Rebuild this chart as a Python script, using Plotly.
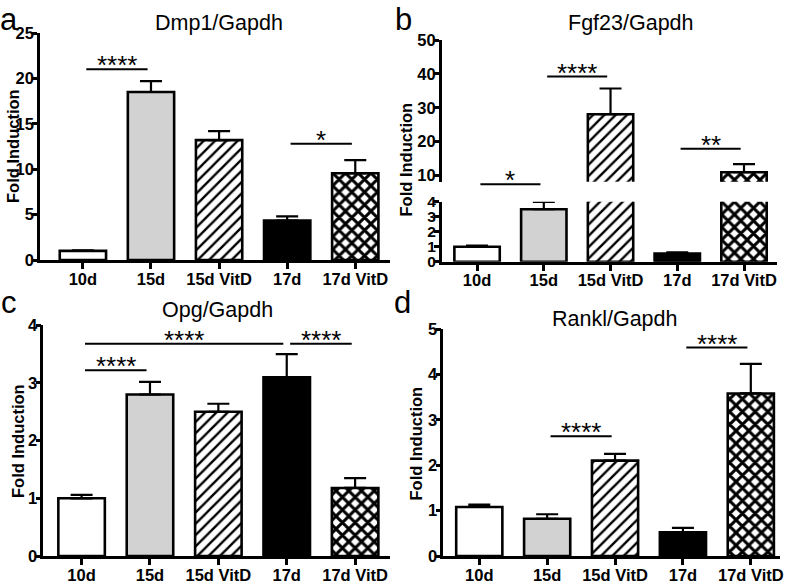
import plotly.graph_objects as go

W, H = 787, 583
FONT = "Liberation Sans"

# ---------------- data ----------------
categories = ["10d", "15d", "15d VitD", "17d", "17d VitD"]

dmp1_mean = [1.0, 18.5, 13.2, 4.35, 9.55]
dmp1_sem = [0.05, 1.2, 1.0, 0.45, 1.45]

fgf23_mean = [1.0, 3.5, 28.1, 0.55, 11.0]
fgf23_sem = [0.07, 0.48, 7.6, 0.08, 2.4]

opg_mean = [1.0, 2.8, 2.5, 3.1, 1.18]
opg_sem = [0.06, 0.22, 0.14, 0.4, 0.17]

rankl_mean = [1.08, 0.82, 2.1, 0.52, 3.58]
rankl_sem = [0.05, 0.1, 0.15, 0.1, 0.65]

# significance brackets: (from group, to group, height, label)
dmp1_sig = [(0, 1, 21.0, "****"), (3, 4, 12.8, "*")]
fgf23_sig = [(0, 1, 7.46, "*"), (1, 2, 39.2, "****"), (3, 4, 17.9, "**")]
opg_sig = [(0, 1, 3.22, "****"), (0, 3, 3.68, "****"), (3, 4, 3.68, "****")]
rankl_sig = [(1, 2, 2.64, "****"), (3, 4, 4.59, "****")]

# ---------------- style ----------------
fills = ["white", "#d2d2d2", "white", "black", "white"]
patterns = ["", "", "/", "", "x"]
pat_size = [8, 8, 8, 8, 9]
pat_solid = [0.3, 0.3, 0.3, 0.3, 0.55]


def px(x):
    return x / W


def py(y):
    return 1 - y / H


fig = go.Figure()


def add_bars(mean, sem, xa, ya):
    for k, cat in enumerate(categories):
        marker = dict(color=fills[k], line=dict(color="black", width=2.6))
        if patterns[k]:
            marker["pattern"] = dict(shape=patterns[k], fgcolor="black", bgcolor="white",
                                     fillmode="overlay", size=pat_size[k],
                                     solidity=pat_solid[k], fgopacity=1)
        fig.add_trace(go.Bar(
            x=[cat], y=[mean[k]], xaxis=xa, yaxis=ya, width=0.68, marker=marker,
            error_y=dict(type="data", array=[sem[k]], arrayminus=[0], symmetric=False,
                         color="black", thickness=2.2, width=11),
            showlegend=False, hoverinfo="skip",
        ))


tickfont = dict(family=FONT, size=16.5, color="black", weight="bold")


def ycfg(domain, rng, tickvals, anchor, fsize=16.5):
    return dict(domain=domain, range=rng, tickvals=tickvals, anchor=anchor,
                showline=True, linewidth=2.6, linecolor="black", ticks="outside",
                ticklen=5, tickwidth=2.6, tickcolor="black", showgrid=False,
                zeroline=False, automargin=False, ticklabelstandoff=-5,
                tickfont=dict(family=FONT, size=fsize, color="black", weight="bold"),
                fixedrange=True)


def xcfg(domain, rng, anchor):
    return dict(domain=domain, range=rng, anchor=anchor, type="category",
                categoryorder="array", categoryarray=categories,
                showline=True, linewidth=2.6, linecolor="black", ticks="outside",
                ticklen=6, tickwidth=2.6, tickcolor="black", showgrid=False,
                zeroline=False, automargin=False, ticklabelstandoff=-4,
                tickfont=tickfont, fixedrange=True)


add_bars(dmp1_mean, dmp1_sem, "x", "y")
add_bars(fgf23_mean, fgf23_sem, "x2", "y2")
add_bars(fgf23_mean, fgf23_sem, "x2", "y3")
add_bars(opg_mean, opg_sem, "x3", "y4")
add_bars(rankl_mean, rankl_sem, "x4", "y5")

ranges = {
    "y": [0, 25], "y2": [0, 4], "y3": [8.2, 50], "y4": [0, 4], "y5": [0, 5],
}

fig.update_layout(
    template="none",
    width=W, height=H, margin=dict(l=0, r=0, t=0, b=0, pad=0), autosize=False,
    paper_bgcolor="white", plot_bgcolor="white", barmode="overlay",
    xaxis=xcfg([px(40), px(390)], [-0.63, 4.51], "y"),
    yaxis=ycfg([py(260), py(33)], ranges["y"], [0, 5, 10, 15, 20, 25], "x"),
    xaxis2=xcfg([px(441.7), px(776.7)], [-0.53, 4.49], "y2"),
    yaxis2=ycfg([py(261.7), py(201.7)], ranges["y2"], [0, 1, 2, 3, 4], "x2", 15.5),
    yaxis3=ycfg([py(181.7), py(40)], ranges["y3"], [10, 20, 30, 40, 50], "x2"),
    xaxis3=xcfg([px(43.3), px(390)], [-0.56, 4.51], "y4"),
    yaxis4=ycfg([py(556), py(325.3)], ranges["y4"], [0, 1, 2, 3, 4], "x3"),
    xaxis4=xcfg([px(443.3), px(780)], [-0.53, 4.43], "y5"),
    yaxis5=ycfg([py(556), py(329)], ranges["y5"], [0, 1, 2, 3, 4, 5], "x4"),
)

shapes = []
annotations = []


def add_sig(sigs, xa, ya):
    r0, r1 = ranges[ya]
    for i, j, h, lab in sigs:
        frac = (h - r0) / (r1 - r0)
        shapes.append(dict(type="line", xref=xa, yref=ya + " domain",
                           x0=i + 0.05, x1=j - 0.05, y0=frac, y1=frac,
                           line=dict(color="black", width=2)))
        annotations.append(dict(text=lab, xref=xa, yref=ya + " domain",
                                x=(i + j) / 2, y=frac, yanchor="bottom", yshift=-13,
                                showarrow=False,
                                font=dict(family=FONT, size=26, color="black")))


add_sig(dmp1_sig, "x", "y")
add_sig(fgf23_sig, "x2", "y3")
add_sig(opg_sig, "x3", "y4")
add_sig(rankl_sig, "x4", "y5")


def text(t, x, y, size, weight="normal", angle=0, yanchor="middle"):
    annotations.append(dict(text=t, xref="paper", yref="paper", x=px(x), y=py(y),
                            xanchor="center", yanchor=yanchor, showarrow=False,
                            textangle=angle,
                            font=dict(family=FONT, size=size, color="black", weight=weight)))


# panel letters
text("a", 9, 0, 31, yanchor="top")
text("b", 404, 0, 31, yanchor="top")
text("c", 9, 302, 31)
text("d", 402, 302, 31)
# titles
text("Dmp1/Gapdh", 218.5, 23, 21.5)
text("Fgf23/Gapdh", 630.8, 23, 21.5)
text("Opg/Gapdh", 217.5, 310, 21.5)
text("Rankl/Gapdh", 615, 319, 21.5)
# y titles
for (xx, yy) in [(13, 146), (405.5, 160), (18, 441), (415.5, 443)]:
    text("Fold Induction", xx, yy, 16.5, "bold", -90)

fig.update_layout(shapes=shapes, annotations=annotations)
fig.write_html(
    "out.html",
    config={"displayModeBar": False},
    post_script="document.body.style.margin='0';document.body.style.padding='0';",
)
